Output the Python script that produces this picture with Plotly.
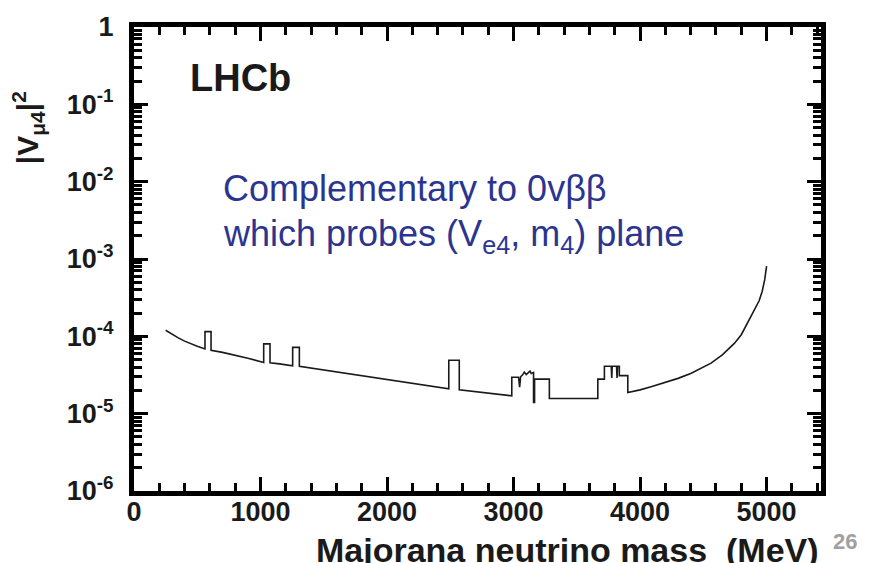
import plotly.graph_objects as go

# Exclusion limit on |V_mu4|^2 versus Majorana neutrino mass (LHCb)
mass_mev = [250, 300, 350, 400, 450, 500, 561, 561, 609, 609, 700, 800, 900,
            1025, 1025, 1075, 1075, 1150, 1254, 1254, 1307, 1307, 1500, 1800,
            2100, 2488, 2488, 2571, 2571, 2700, 2850, 2986, 2986, 3040, 3048,
            3056, 3073, 3085, 3100, 3115, 3130, 3140, 3158, 3158, 3166, 3166,
            3283, 3283, 3666, 3666, 3718, 3718, 3772, 3776, 3780, 3814, 3818,
            3822, 3836, 3836, 3903, 3903, 4000, 4087, 4200, 4300, 4400, 4500,
            4561, 4650, 4745, 4800, 4850, 4877, 4910, 4941, 4965, 4985, 5000]
v_mu4_sq = [1.2e-4, 1.067e-4, 9.55e-5, 8.67e-5, 8.0e-5, 7.45e-5, 6.87e-5,
            1.15e-4, 1.15e-4, 6.6e-5, 6.2e-5, 5.7e-5, 5.2e-5,
            4.6e-5, 8.0e-5, 8.0e-5, 4.55e-5, 4.4e-5, 4.17e-5, 7.2e-5, 7.2e-5,
            4.1e-5, 3.67e-5, 3.1e-5,
            2.62e-5, 2.1e-5, 4.9e-5, 4.9e-5, 2.04e-5, 1.93e-5, 1.78e-5, 1.7e-5,
            2.96e-5, 2.96e-5, 2.2e-5,
            3.0e-5, 3.2e-5, 3.45e-5, 3.2e-5, 3.4e-5, 3.55e-5, 3.3e-5, 3.4e-5,
            1.4e-5, 1.4e-5, 2.8e-5,
            2.8e-5, 1.57e-5, 1.57e-5, 2.8e-5, 2.8e-5, 4.1e-5, 4.1e-5, 2.9e-5,
            4.1e-5, 4.1e-5, 2.9e-5,
            4.1e-5, 4.1e-5, 3.1e-5, 3.1e-5, 1.88e-5, 2.03e-5, 2.23e-5, 2.54e-5,
            2.86e-5, 3.31e-5, 3.98e-5,
            4.5e-5, 5.75e-5, 8.1e-5, 1.05e-4, 1.5e-4, 1.79e-4, 2.29e-4,
            2.88e-4, 3.8e-4, 5.4e-4, 8.1e-4]

# Axis ticks
x_major = [0, 1000, 2000, 3000, 4000, 5000]
y_major = [1e-6, 1e-5, 1e-4, 1e-3, 1e-2, 1e-1, 1]
y_major_text = ["10<sup>-6</sup>", "10<sup>-5</sup>", "10<sup>-4</sup>",
                "10<sup>-3</sup>", "10<sup>-2</sup>", "10<sup>-1</sup>", "1"]
y_minor = [k * 10.0 ** e for e in range(-6, 0) for k in range(2, 10)]

FONT = "Liberation Sans"
BLUE = "#2b3590"

fig = go.Figure()
fig.add_trace(go.Scatter(
    x=mass_mev, y=v_mu4_sq, mode="lines",
    line=dict(color="#1a1a1a", width=1.6),
    showlegend=False, hoverinfo="skip",
))

axis_common = dict(
    showline=True, linecolor="black", linewidth=5, mirror="allticks",
    ticks="inside", tickcolor="black", tickwidth=3,
    showgrid=False, zeroline=False,
    tickfont=dict(family=FONT, size=27, color="#1a1a1a", weight="bold"),
)

fig.update_xaxes(
    range=[0, 5430], tickmode="array", tickvals=x_major, ticklen=14,
    minor=dict(ticks="inside", dtick=200, ticklen=8, tickwidth=3,
               tickcolor="black", showgrid=False),
    ticklabelstandoff=-7,
    **axis_common,
)
fig.update_yaxes(
    type="log", range=[-6, 0], tickmode="array", tickvals=y_major,
    ticktext=y_major_text, ticklen=14,
    minor=dict(ticks="inside", tickmode="array", tickvals=y_minor, ticklen=8,
               tickwidth=2.5, tickcolor="black", showgrid=False),
    ticklabelstandoff=10,
    **axis_common,
)

annotations = [
    dict(text="LHCb", x=0.079, y=0.89, xanchor="left", yanchor="middle",
         font=dict(family=FONT, size=38, color="#1a1a1a", weight="bold")),
    dict(text="Complementary to 0vββ", x=0.127, y=0.652, xanchor="left",
         yanchor="middle", font=dict(family=FONT, size=36, color=BLUE)),
    dict(text="which probes (V<sub>e4</sub>, m<sub>4</sub>) plane", x=0.127,
         y=0.549, xanchor="left", yanchor="middle",
         font=dict(family=FONT, size=36, color=BLUE)),
    dict(text="|V<sub>μ4</sub>|<sup>2</sup>", x=-0.155, y=0.783,
         xanchor="center", yanchor="middle", textangle=-90,
         font=dict(family=FONT, size=30, color="#1a1a1a", weight="bold")),
    dict(text="Majorana neutrino mass  (MeV)", x=1.0, y=-0.127,
         xanchor="right", yanchor="middle",
         font=dict(family=FONT, size=34, color="#1a1a1a", weight="bold")),
    dict(text="26", x=1.035, y=-0.108, xanchor="center", yanchor="middle",
         font=dict(family=FONT, size=22, color="#a0a0a0", weight="bold")),
]
for a in annotations:
    a.update(xref="paper", yref="paper", showarrow=False)

fig.update_layout(
    width=874, height=563,
    margin=dict(l=134, r=53, t=24, b=72),
    paper_bgcolor="white", plot_bgcolor="white",
    annotations=annotations,
)

fig.write_html("out.html")
